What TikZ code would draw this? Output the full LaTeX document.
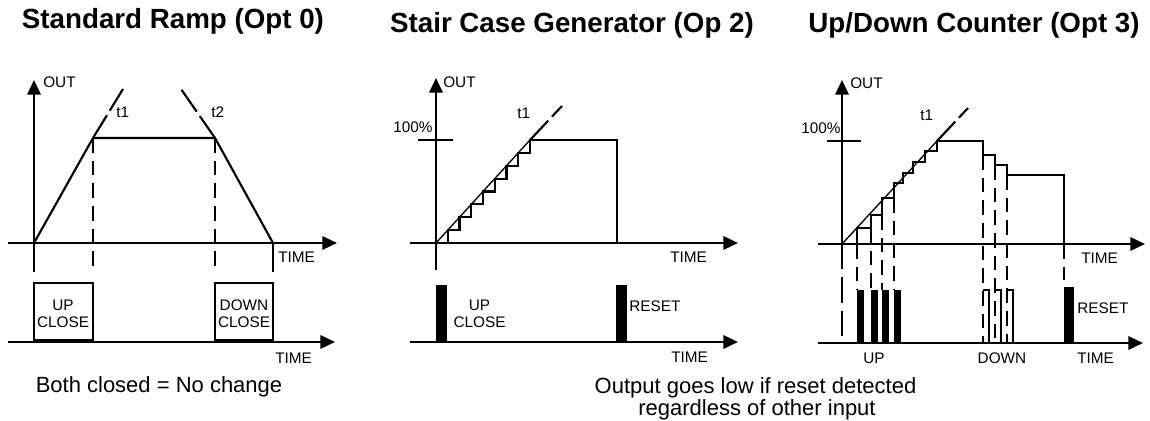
\documentclass[tikz,border=0pt]{standalone}
\usepackage{fontspec}
\setmainfont{Liberation Sans}
\usetikzlibrary{arrows.meta}

\begin{document}
\begin{tikzpicture}[x=0.75pt, y=-0.75pt,
    axis/.style={line width=1.8pt, -{Triangle[length=11pt, width=10pt]}},
    sig/.style={line width=1.6pt},
    guide/.style={line width=1.6pt, dash pattern=on 11pt off 6pt},
    longguide/.style={line width=1.6pt, dash pattern=on 19pt off 6pt},
    tail/.style={line width=1.6pt, dash pattern=on 20pt off 4pt},
    lbl/.style={inner sep=0pt, font=\fontsize{11.5}{12.75}\selectfont},
    title/.style={inner sep=0pt, anchor=base, font=\fontsize{20.8}{24}\selectfont\bfseries},
    note/.style={inner sep=0pt, anchor=base, font=\fontsize{16.5}{20}\selectfont}]
    \path[use as bounding box, fill=white] (0,0) rectangle (1150,421);

    % ===== Standard Ramp =====
    \node[title] (title1) at (173,28) {Standard Ramp (Opt 0)};
    % axes
    \draw[axis] (8,243) -- (337,243);
    \draw[axis] (34,243) -- (34,80);
    \draw[axis] (8,342) -- (335,342);
    \node[lbl, anchor=base west] (out1) at (43,87) {OUT};
    \node[lbl, anchor=base west] (time1a) at (278,262) {TIME};
    \node[lbl, anchor=base west] (time1b) at (275,363) {TIME};
    % ramp up, hold, ramp down
    \draw[sig] (34,243) -- (93,138) -- (215,138) -- (273,243);
    \draw[tail] (93,138) -- (123,89);
    \draw[tail] (215,138) -- (181,89);
    \node[lbl, anchor=base west] (t1a) at (116,117) {t1};
    \node[lbl, anchor=base west] (t2a) at (211,117) {t2};
    % switch instants
    \draw[sig] (34,243) -- (34,272);
    \draw[sig] (273,243) -- (273,272);
    \draw[guide] (93,138) -- (93,272);
    \draw[guide] (215,138) -- (215,272);
    % inputs
    \draw[sig] (34,342) |- (93,283) -- (93,342);
    \draw[line width=3pt] (34,341) -- (93,341);
    \node[lbl, align=center] (upclose1) at (63,313.5) {UP\\CLOSE};
    \draw[sig] (215,342) |- (273,283) -- (273,342);
    \draw[line width=3pt] (215,341) -- (273,341);
    \node[lbl, align=center] (downclose1) at (244,314) {DOWN\\CLOSE};
    \node[note] (note1) at (159,392) {Both closed = No change};

    % ===== Stair Case Generator =====
    \node[title] (title2) at (572,32) {Stair Case Generator (Op 2)};
    \draw[axis] (410,243) -- (738,243);
    \draw[axis] (436,243) -- (436,78);
    \draw[axis] (410,342) -- (738,342);
    \draw[sig] (418,140) -- (453,140);
    \node[lbl, anchor=base west] (pct2) at (393,132) {100\%};
    \node[lbl, anchor=base west] (out2) at (443,87) {OUT};
    \node[lbl, anchor=base west] (t1b) at (517,118) {t1};
    \node[lbl, anchor=base west] (time2a) at (670,262) {TIME};
    \node[lbl, anchor=base west] (time2b) at (671,362) {TIME};
    % ideal ramp and staircase
    \draw[line width=1pt] (436,243) -- (530,140);
    \draw[tail] (530,140) -- (562,106);
    \draw[sig] (436,243) \foreach \k in {1,...,8} { -| ({436+11.75*\k},{243-12.875*\k}) }
      -- (617,140) -- (617,243);
    \draw[sig] (436,243) -- (436,270);
    % inputs
    \fill (436,285) rectangle (447,342);
    \node[lbl, align=center] (upclose2) at (479.5,313.5) {UP\\CLOSE};
    \fill (616,285) rectangle (627,342);
    \node[lbl, anchor=base west] (reset2) at (629,311) {RESET};

    % ===== Up/Down Counter =====
    \node[title] (title3) at (974,32) {Up/Down Counter (Opt 3)};
    \draw[axis] (818,244) -- (1145,244);
    \draw[axis] (842,244) -- (842,80);
    \draw[axis] (818,343) -- (1143,343);
    \draw[sig] (827,141) -- (861,141);
    \node[lbl, anchor=base west] (pct3) at (801,133) {100\%};
    \node[lbl, anchor=base west] (out3) at (850,88) {OUT};
    \node[lbl, anchor=base west] (t1c) at (920,120) {t1};
    \node[lbl, anchor=base west] (time3a) at (1081,263) {TIME};
    \node[lbl, anchor=base west] (time3b) at (1077,363) {TIME};
    % count up, count down, reset
    \draw[line width=1pt] (842,244) -- (937,141);
    \draw[tail] (937,141) -- (968,108);
    \draw[sig] (842,244)
      \foreach \x/\y in {857/228,871/215,882/198,894/183,903/173,913/162,925/151,937/141} { -| (\x,\y) }
      -- (983,141) |- (995,155) |- (1007,165) |- (1064,175) -- (1064,244);
    \draw[longguide] (842,244) -- (842,343);
    \foreach \x/\y in {857/244,871/228,882/215,894/198} \draw[guide] (\x,\y) -- (\x,290);
    \foreach \x/\y in {983/155,995/165,1007/175} \draw[guide] (\x,\y) -- (\x,343);
    \draw[guide] (1064,244) -- (1064,280);
    % inputs
    \foreach \x in {857,871,882,894} \fill (\x,290) rectangle ++(7,53);
    \foreach \x in {983,995,1007} \draw[line width=1pt] (\x,290) -- ++(6,0) -- ++(0,53);
    \fill (1064,287) rectangle (1074,343);
    \node[lbl, anchor=base west] (reset3) at (1077,313) {RESET};
    \node[lbl, anchor=base] (up3) at (874,363) {UP};
    \node[lbl, anchor=base] (down3) at (1002,363) {DOWN};

    % ===== note under panels 2 and 3 =====
    \node[note] (note2a) at (755.5,393) {Output goes low if reset detected};
    \node[note] (note2b) at (757,415) {regardless of other input};
\end{tikzpicture}
\end{document}
